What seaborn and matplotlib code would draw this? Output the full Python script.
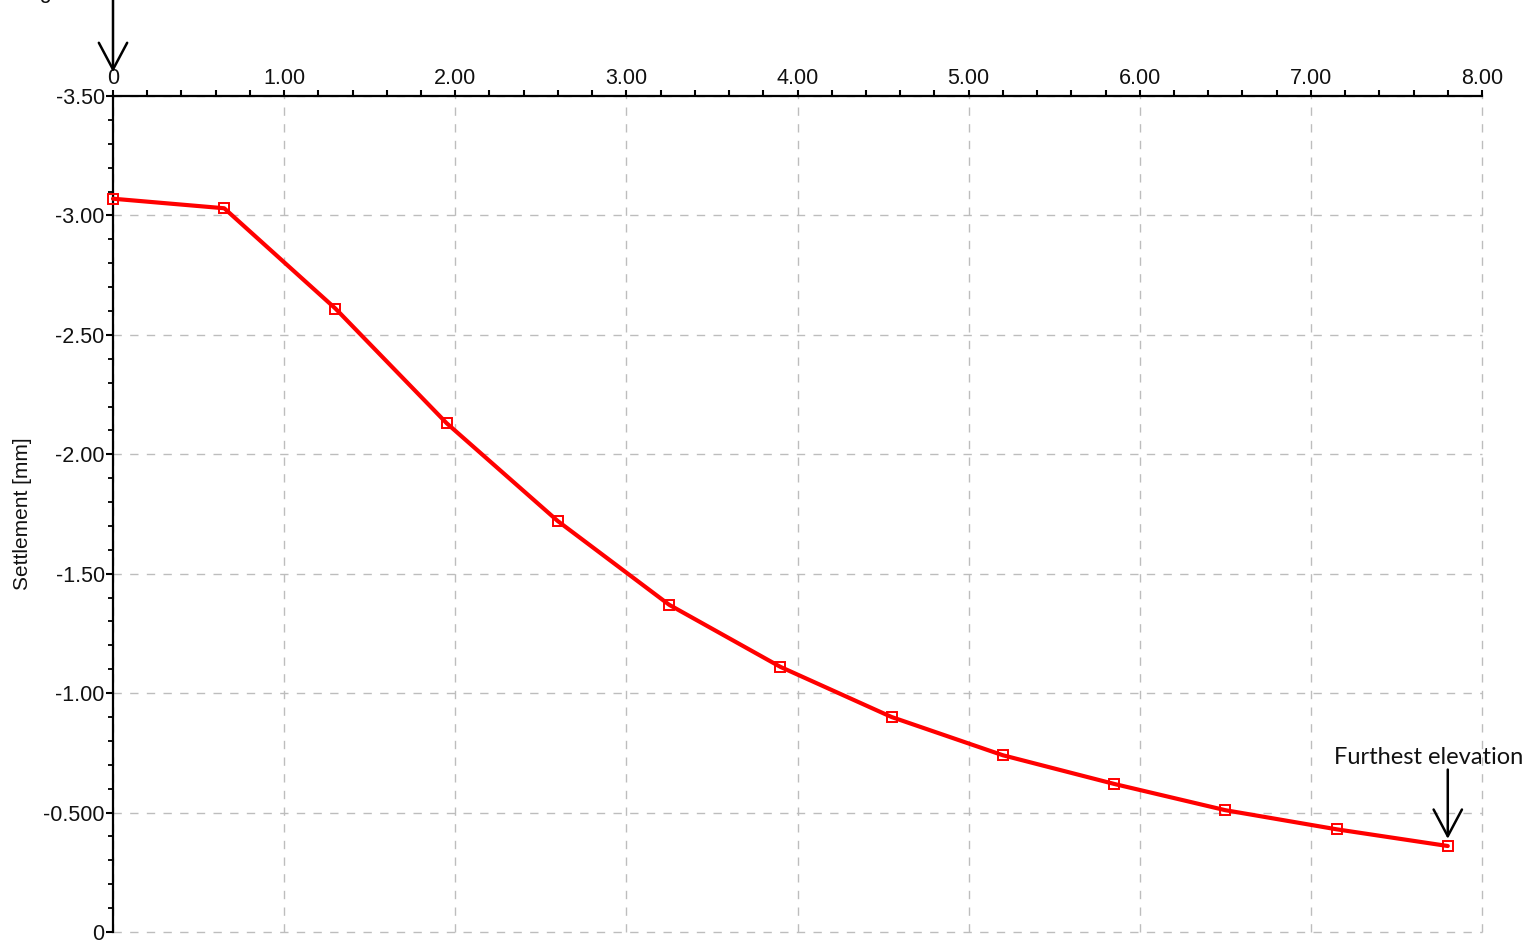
import matplotlib
matplotlib.use("Agg")
import matplotlib.pyplot as plt
import seaborn as sns
import pandas as pd
from matplotlib.ticker import FixedLocator, MultipleLocator

# Settlement profile along the section
distance = [0.0, 0.65, 1.30, 1.95, 2.60, 3.25, 3.90, 4.55, 5.20, 5.85, 6.50, 7.15, 7.80]
settlement = [-3.07, -3.03, -2.61, -2.13, -1.72, -1.37, -1.11, -0.90, -0.74, -0.62, -0.51, -0.43, -0.36]

x_ticks = [0, 1, 2, 3, 4, 5, 6, 7, 8]
x_tick_labels = ["0", "1.00", "2.00", "3.00", "4.00", "5.00", "6.00", "7.00", "8.00"]
y_ticks = [-3.5, -3.0, -2.5, -2.0, -1.5, -1.0, -0.5, 0.0]
y_tick_labels = ["-3.50", "-3.00", "-2.50", "-2.00", "-1.50", "-1.00", "-0.500", "0"]

df = pd.DataFrame({"distance": distance, "settlement": settlement})

sns.set_theme(style="white")
plt.rcParams["font.family"] = ["Liberation Sans", "DejaVu Sans"]

fig = plt.figure(figsize=(15.28, 9.44), dpi=100)
ax = fig.add_axes([113 / 1528, 12 / 944, (1482 - 113) / 1528, (932 - 96) / 944])

sns.lineplot(data=df, x="distance", y="settlement", ax=ax, color="#ff0000",
             linewidth=3.0, marker="s", markersize=7.5, markerfacecolor="none",
             markeredgecolor="#ff0000", markeredgewidth=1.4, clip_on=False,
             zorder=5)

ax.set_xlim(0, 8)
ax.set_ylim(0, -3.5)

# axes on top and left only
for side in ("right", "bottom"):
    ax.spines[side].set_visible(False)
for side in ("top", "left"):
    ax.spines[side].set_visible(True)
    ax.spines[side].set_color("black")
    ax.spines[side].set_linewidth(1.6)

ax.xaxis.set_ticks_position("top")
ax.xaxis.set_label_position("top")
ax.xaxis.set_major_locator(FixedLocator(x_ticks))
ax.set_xticklabels(x_tick_labels)
ax.xaxis.set_minor_locator(MultipleLocator(0.2))
ax.yaxis.set_major_locator(FixedLocator(y_ticks))
ax.set_yticklabels(y_tick_labels)
ax.yaxis.set_minor_locator(MultipleLocator(0.1))

ax.tick_params(axis="x", which="both", direction="out", length=4, width=1.5,
               color="black", labelsize=15.5, pad=1, top=True, bottom=False,
               labelcolor="#111111")
ax.tick_params(axis="y", which="major", direction="out", length=5, width=1.5,
               color="black", labelsize=15.5, pad=1, left=True,
               labelcolor="#111111")
ax.tick_params(axis="y", which="minor", direction="out", length=3.5, width=1.3,
               color="black", left=True)

ax.grid(True, which="major", color="#bdbdbd", linestyle=(0, (6, 6)), linewidth=1.0)
ax.set_axisbelow(True)
for gl in ax.get_xgridlines() + ax.get_ygridlines():
    gl.set_clip_on(False)

ax.set_xlabel("")
ax.set_ylabel("Settlement [mm]", fontsize=15, labelpad=8, color="#111111")

head = "->,head_length=1.6,head_width=0.85"

# origin marker arrow
ax.annotate("", xy=(0, -3.60), xytext=(0, -3.91), xycoords="data",
            annotation_clip=False,
            arrowprops=dict(arrowstyle=head, color="black", lw=1.8,
                            shrinkA=0, shrinkB=0))

# furthest point arrow and label
ax.annotate("", xy=(distance[-1], settlement[-1] - 0.03), xytext=(distance[-1], -0.68),
            xycoords="data", annotation_clip=False,
            arrowprops=dict(arrowstyle=head, color="black", lw=1.8,
                            shrinkA=0, shrinkB=0))
ax.text(7.69, -0.705, "Furthest elevation", ha="center", va="baseline",
        fontsize=17, family=["Lato", "DejaVu Sans"], color="#111111",
        clip_on=False)

# horizontal axis title sits above the canvas edge
fig.text(4 / 1528, 1 + 1.5 / 944, "Length", ha="left", va="baseline",
         fontsize=15.5, color="#111111")

fig.savefig("out.png", dpi=100)
